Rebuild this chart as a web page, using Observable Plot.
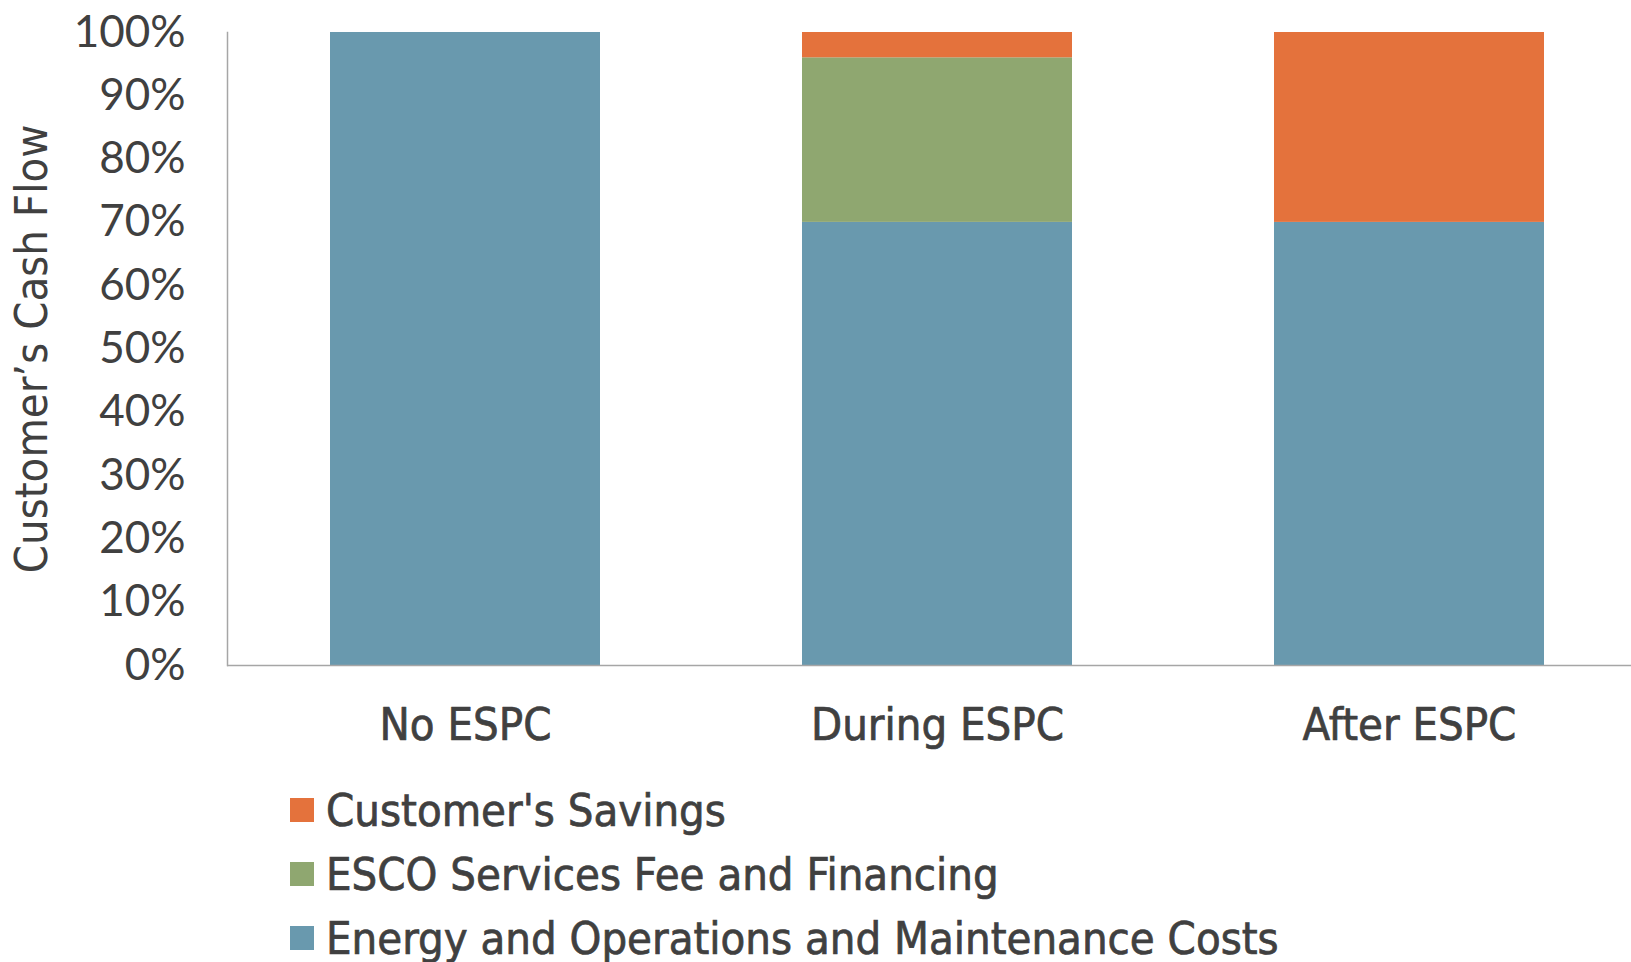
<!DOCTYPE html>
<html>
<head>
<meta charset="utf-8">
<script src="https://cdn.jsdelivr.net/npm/d3@7"></script>
<script src="https://cdn.jsdelivr.net/npm/@observablehq/plot@0.6"></script>
<style>
  body { margin: 0; background: #fff; }
  #legend { margin-left: 290px; margin-top: 8px; font-family: "DejaVu Sans Condensed", sans-serif; font-size: 45px; color: #404040; -webkit-text-stroke: 0.7px #404040; }
  .row { display: flex; align-items: center; height: 64px; }
  .sw { width: 24px; height: 24px; margin-right: 12px; -webkit-text-stroke: 0; }
</style>
</head>
<body>
<div id="chart"></div>
<div id="legend"></div>
<script>
const categories = ["No ESPC", "During ESPC", "After ESPC"];
const seriesNames = ["Energy and Operations and Maintenance Costs", "ESCO Services Fee and Financing", "Customer's Savings"];
const energyCosts = [100, 70, 70];
const escoFees = [0, 26, 0];
const customerSavings = [0, 4, 30];
const seriesColors = ["#6999AE", "#8FA770", "#E4723C"];
const yTicks = [0, 10, 20, 30, 40, 50, 60, 70, 80, 90, 100];
const legendOrder = [2, 1, 0];

const valuesBySeries = [energyCosts, escoFees, customerSavings];
const rows = [];
seriesNames.forEach((s, si) => {
  categories.forEach((c, ci) => {
    rows.push({category: c, series: s, value: valuesBySeries[si][ci]});
  });
});

const condensed = "'DejaVu Sans Condensed', sans-serif";
const W = 1631, H = 770;

const chart = Plot.plot({
  width: W,
  height: H,
  marginLeft: 227,
  marginRight: 0,
  marginTop: 32,
  marginBottom: H - 665,
  style: {background: "#fff", color: "#404040"},
  x: {domain: categories, paddingInner: 0.429, paddingOuter: 0.2, align: 0.54, label: null},
  y: {domain: [0, 100], label: null},
  color: {domain: seriesNames, range: seriesColors},
  marks: [
    Plot.barY(rows, {x: "category", y: "value", fill: "series", order: seriesNames}),
    Plot.ruleY([0], {stroke: "#a6a6a6", strokeWidth: 1.5}),
    Plot.frame({anchor: "left", stroke: "#a6a6a6", strokeWidth: 1.5}),
    Plot.axisY({ticks: yTicks, tickFormat: d => d + "%", tickSize: 0, tickPadding: 42, fontSize: 44, fontFamily: "Lato, sans-serif", fill: "#404040", label: null}),
    Plot.axisY({ticks: [], label: "Customer’s Cash Flow", labelAnchor: "center", labelOffset: 212, labelArrow: "none", fontSize: 45, fontFamily: condensed, fill: "#404040", textStroke: "#404040", textStrokeWidth: 0.7}),
    Plot.axisX({tickSize: 0, tickPadding: 43, fontSize: 45, fontFamily: condensed, fill: "#404040", textStroke: "#404040", textStrokeWidth: 0.7, label: null})
  ]
});
document.getElementById("chart").appendChild(chart);

const legend = document.getElementById("legend");
legendOrder.forEach(i => {
  const row = document.createElement("div");
  row.className = "row";
  const sw = document.createElement("div");
  sw.className = "sw";
  sw.style.background = seriesColors[i];
  const t = document.createElement("span");
  t.textContent = seriesNames[i];
  row.appendChild(sw);
  row.appendChild(t);
  legend.appendChild(row);
});
</script>
</body>
</html>
